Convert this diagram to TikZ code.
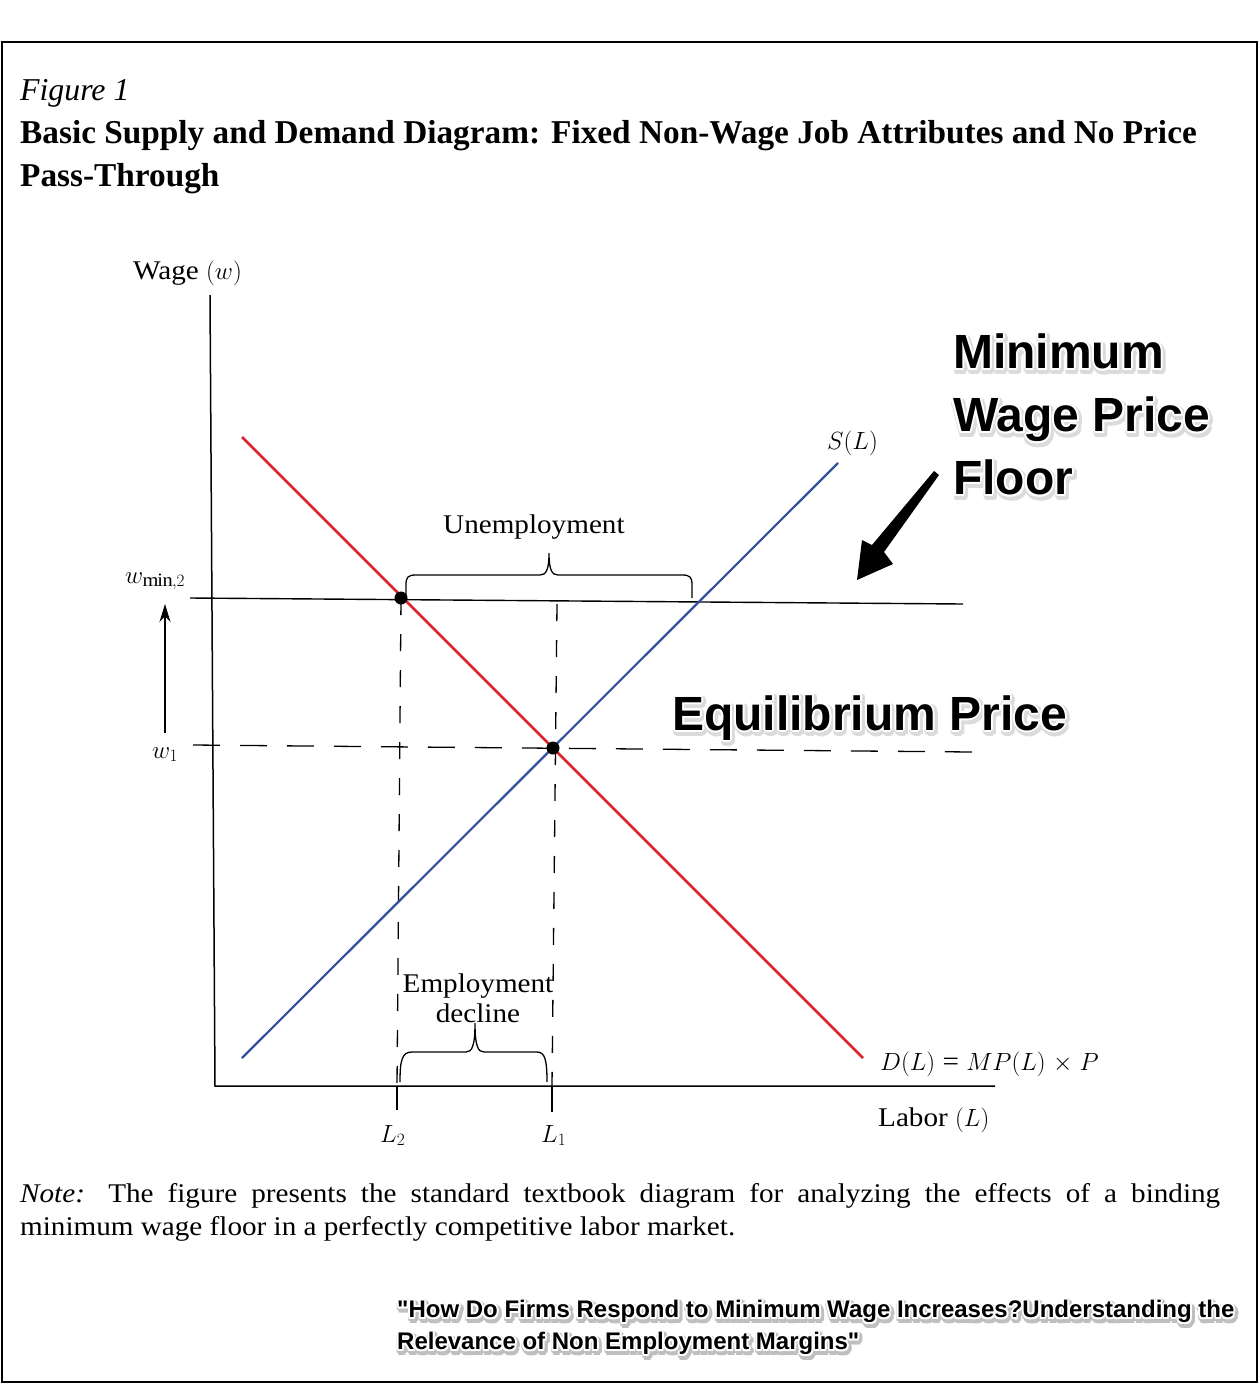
\documentclass[tikz,border=0pt]{standalone}
\usepackage{fontspec}
\setmainfont{Liberation Serif}[FakeStretch=1.08]
\newfontfamily\titlefamily{Liberation Serif}
\newfontfamily\calloutfamily{Liberation Sans}
\usepackage{amsmath}
\usetikzlibrary{calc,arrows.meta,positioning}
\definecolor{demandred}{RGB}{218,35,42}
\definecolor{supplyblue}{RGB}{52,80,158}

\newcommand\haloed[5][]{%
  \foreach \ang in {0,30,...,330}
    \node[callout,#1,text=black!#5] at ($(#3)+(\ang:3.5)+(1.5,2.5)$) {#4};
  \foreach \ang in {0,45,...,315}
    \node[callout,#1,text=white] at ($(#3)+(\ang:2)$) {#4};
  \node[callout,#1] (#2) at (#3) {#4};
}

\begin{document}
\begin{tikzpicture}[x=1pt,y=-1pt,
  frame/.style={line width=2pt},
  axisline/.style={line width=1.5pt},
  demand/.style={demandred,line width=2.6pt},
  supply/.style={supplyblue,line width=2.2pt},
  floorline/.style={line width=1.4pt},
  vguide/.style={line width=1.3pt,dash pattern=on 17pt off 19pt},
  hguide/.style={line width=1.3pt,dash pattern=on 27pt off 20pt},
  tickline/.style={line width=1.4pt},
  bracket/.style={line width=1.3pt},
  eqdot/.style={circle,fill=black,inner sep=0pt,minimum size=13pt},
  lbl/.style={inner sep=0pt,anchor=base west,font=\fontsize{27}{30}\selectfont},
  callout/.style={inner sep=0pt,align=left,font=\calloutfamily\bfseries\fontsize{48}{63}\selectfont},
  quotetext/.style={font=\calloutfamily\bfseries\fontsize{24}{32}\selectfont}
]
\useasboundingbox (0,0) rectangle (1260,1384);
\draw[frame] (2,42) rectangle (1257,1382);

\node[lbl,font=\titlefamily\itshape\fontsize{31.8}{36}\selectfont] (fig) at (20,100) {Figure 1};
\node[lbl,font=\titlefamily\bfseries\fontsize{33.3}{40}\selectfont] (titleA) at (20,143) {Basic Supply and Demand Diagram: Fixed Non-Wage Job Attributes and No Price};
\node[lbl,font=\titlefamily\bfseries\fontsize{33.3}{40}\selectfont] (titleB) at (20,186) {Pass-Through};

\coordinate (ytop) at (210,295);
\coordinate (O) at (215,1086);
\coordinate (xend) at (995,1086);
\draw[axisline] (ytop) -- (O) -- (xend);

\coordinate (Dtop) at (242,437);
\coordinate (Dbot) at (863,1058);
\coordinate (Sbot) at (242,1058);
\coordinate (Stop) at (838,463);
\coordinate (wminL) at (190,598);
\coordinate (wminR) at (963,604);
\coordinate (woneL) at (193,745);
\coordinate (woneR) at (972,752);
\coordinate (lowpt) at (401,598);
\coordinate (eqpt) at (553,748);
\coordinate (Lonetop) at (557,604);
\coordinate (Ltwo) at (397,1086);
\coordinate (Lone) at (552,1086);

\draw[floorline] (wminL) -- (wminR);
\draw[hguide] (woneL) -- (woneR);
\draw[vguide] (lowpt) -- (Ltwo);
\draw[vguide] (Lonetop) -- (Lone);
\draw[tickline] (Ltwo) -- ++(0,24);
\draw[tickline] (Lone) -- ++(0,26);

\draw[demand] (Dtop) -- (Dbot);
\draw[supply] (Sbot) -- (Stop);
\node[eqdot] (low) at (lowpt) {};
\node[eqdot] (eq) at (eqpt) {};

\coordinate (arrbot) at (165,733);
\coordinate (arrtop) at (165,604);
\draw[line width=1.4pt,-{Stealth[length=18pt,width=11pt]}] (arrbot) -- (arrtop);

\draw[bracket] (406,597) -- (406,585) .. controls (406,577) and (408,575) .. (416,575) -- (540,575)
  .. controls (546,575) and (549,570) .. (549,553) .. controls (549,570) and (552,575) .. (558,575)
  -- (682,575) .. controls (690,575) and (692,577) .. (692,585) -- (692,598);
\draw[bracket] (400,1082) .. controls (400,1060) and (402,1052) .. (412,1052) -- (466,1052)
  .. controls (472,1052) and (475,1046) .. (475,1023) .. controls (475,1046) and (478,1052) .. (484,1052)
  -- (537,1052) .. controls (545,1052) and (547,1060) .. (547,1082);

\node[lbl] (wagelbl) at (133,279) {Wage $(w)$};
\node[lbl] (wminlbl) at (125,583) {$w_{\mathrm{min},2}$};
\node[lbl] (wonelbl) at (152,758) {$w_1$};
\node[lbl] (slbl) at (827,449) {$S(L)$};
\node[lbl] (dlbl) at (880,1070) {$D(L)$ = $MP(L)$ $\times$ $P$};
\node[lbl] (laborlbl) at (878,1126) {Labor $(L)$};
\node[lbl] (ltwolbl) at (380,1142) {$L_2$};
\node[lbl] (lonelbl) at (541,1142) {$L_1$};
\node[lbl] (unemp) at (443,533) {Unemployment};
\node[lbl,anchor=base,align=center] (empdec) at (478,1022) {Employment\\decline};

\haloed[anchor=north west]{floorcall}{953,334}{Minimum\\Wage Price\\Floor}{14}
\haloed[anchor=base west]{eqcall}{672,730}{Equilibrium Price}{14}
\fill (934,471) -- (939,475) -- (884,552) -- (893,564) -- (857,580) -- (862,540) -- (872,545) -- cycle;

\node[inner sep=0pt,anchor=north west,text width=1200pt,align=justify,font=\fontsize{27}{33}\selectfont] (note) at (20,1183)
  {\textit{Note:} The figure presents the standard textbook diagram for analyzing the effects of a binding\linebreak minimum wage floor in a perfectly competitive labor market.};

\haloed[quotetext,anchor=north west]{source}{397,1300}{"How Do Firms Respond to Minimum Wage Increases?Understanding the\\Relevance of Non Employment Margins"}{25}
\end{tikzpicture}
\end{document}
